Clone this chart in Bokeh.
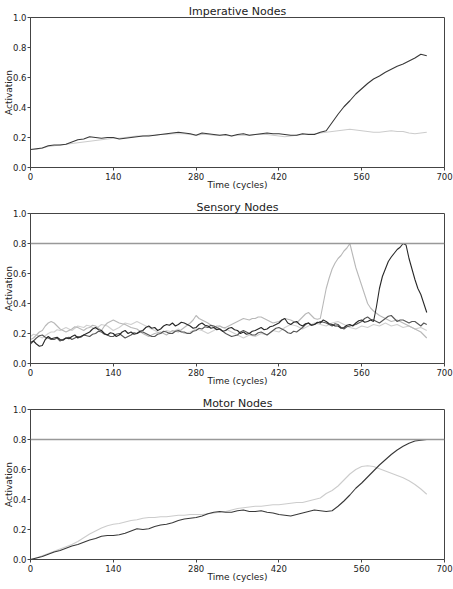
from bokeh.plotting import figure
from bokeh.layouts import column
from bokeh.models import Range1d, FixedTicker, Span
from bokeh.embed import file_html
from bokeh.resources import INLINE

TIME = [0, 10, 20, 30, 40, 50, 60, 70, 80, 90, 100, 110, 120, 130, 140, 150, 160, 170, 180, 190,
        200, 210, 220, 230, 240, 250, 260, 270, 280, 290, 300, 310, 320, 330, 340, 350, 360, 370, 380, 390,
        400, 410, 420, 430, 440, 450, 460, 470, 480, 490, 500, 510, 520, 530, 540, 550, 560, 570, 580, 590,
        600, 610, 620, 630, 640, 650, 660, 670]

TIME_S = [0, 5, 10, 15, 20, 25, 30, 35, 40, 45,
          50, 55, 60, 65, 70, 75, 80, 85, 90, 95,
          100, 105, 110, 115, 120, 125, 130, 135, 140, 145,
          150, 155, 160, 165, 170, 175, 180, 185, 190, 195,
          200, 205, 210, 215, 220, 225, 230, 235, 240, 245,
          250, 255, 260, 265, 270, 275, 280, 285, 290, 295,
          300, 305, 310, 315, 320, 325, 330, 335, 340, 345,
          350, 355, 360, 365, 370, 375, 380, 385, 390, 395,
          400, 405, 410, 415, 420, 425, 430, 435, 440, 445,
          450, 455, 460, 465, 470, 475, 480, 485, 490, 495,
          500, 505, 510, 515, 520, 525, 530, 535, 540, 545,
          550, 555, 560, 565, 570, 575, 580, 585, 590, 595,
          600, 605, 610, 615, 620, 625, 630, 635, 640, 645,
          650, 655, 660, 665, 670]

X_TICKS = [0, 140, 280, 420, 560, 700]
Y_TICKS = [0.0, 0.2, 0.4, 0.6, 0.8, 1.0]
Y_TICK_LABELS = ["0.0", "0.2", "0.4", "0.6", "0.8", "1.0"]
THRESHOLD = 0.8

# Imperative nodes
IMP_A = [0.12, 0.125, 0.13, 0.145, 0.15, 0.15, 0.155, 0.17, 0.185, 0.19, 0.205, 0.20, 0.195, 0.20, 0.20, 0.19, 0.195, 0.20, 0.205, 0.21,
         0.21, 0.215, 0.22, 0.225, 0.23, 0.235, 0.23, 0.225, 0.215, 0.23, 0.225, 0.22, 0.215, 0.22, 0.21, 0.22, 0.225, 0.215, 0.22, 0.225,
         0.23, 0.225, 0.225, 0.22, 0.215, 0.215, 0.225, 0.22, 0.22, 0.235, 0.245, 0.30, 0.355, 0.405, 0.445, 0.49, 0.525, 0.56, 0.59, 0.61,
         0.635, 0.655, 0.675, 0.69, 0.71, 0.73, 0.755, 0.745]
IMP_B = [0.12, 0.12, 0.13, 0.14, 0.145, 0.15, 0.155, 0.16, 0.165, 0.17, 0.175, 0.18, 0.185, 0.19, 0.195, 0.195, 0.20, 0.205, 0.21, 0.21,
         0.215, 0.215, 0.22, 0.22, 0.225, 0.225, 0.225, 0.22, 0.215, 0.22, 0.22, 0.215, 0.215, 0.215, 0.21, 0.215, 0.215, 0.215, 0.22, 0.22,
         0.22, 0.215, 0.21, 0.205, 0.21, 0.215, 0.22, 0.225, 0.225, 0.23, 0.235, 0.24, 0.245, 0.25, 0.255, 0.25, 0.245, 0.24, 0.235, 0.235,
         0.24, 0.245, 0.24, 0.24, 0.23, 0.225, 0.23, 0.235]

# Sensory nodes (sampled every 5 cycles)
SEN_A = [0.14, 0.15, 0.13, 0.115, 0.12, 0.16, 0.18, 0.165, 0.17, 0.175,
         0.16, 0.155, 0.17, 0.165, 0.18, 0.19, 0.17, 0.18, 0.19, 0.20,
         0.21, 0.23, 0.24, 0.225, 0.22, 0.20, 0.19, 0.205, 0.20, 0.18,
         0.19, 0.21, 0.22, 0.20, 0.21, 0.195, 0.20, 0.215, 0.22, 0.24,
         0.25, 0.235, 0.24, 0.22, 0.23, 0.25, 0.26, 0.255, 0.27, 0.25,
         0.26, 0.275, 0.27, 0.26, 0.25, 0.235, 0.24, 0.26, 0.27, 0.255,
         0.25, 0.235, 0.24, 0.225, 0.23, 0.215, 0.22, 0.235, 0.24, 0.225,
         0.22, 0.20, 0.21, 0.195, 0.20, 0.215, 0.22, 0.23, 0.24, 0.225,
         0.23, 0.245, 0.25, 0.26, 0.27, 0.29, 0.30, 0.27, 0.26, 0.275,
         0.28, 0.26, 0.25, 0.265, 0.27, 0.255, 0.26, 0.275, 0.27, 0.29,
         0.28, 0.265, 0.26, 0.25, 0.25, 0.235, 0.24, 0.255, 0.26, 0.25,
         0.27, 0.285, 0.29, 0.275, 0.28, 0.29, 0.28, 0.38, 0.50, 0.58,
         0.63, 0.68, 0.71, 0.735, 0.76, 0.775, 0.80, 0.79, 0.70, 0.63,
         0.56, 0.50, 0.46, 0.40, 0.34]
SEN_B = [0.13, 0.15, 0.17, 0.185, 0.19, 0.175, 0.17, 0.16, 0.16, 0.17,
         0.15, 0.16, 0.17, 0.175, 0.16, 0.17, 0.18, 0.175, 0.19, 0.185,
         0.18, 0.195, 0.20, 0.215, 0.21, 0.195, 0.19, 0.18, 0.18, 0.195,
         0.20, 0.185, 0.17, 0.18, 0.19, 0.205, 0.20, 0.21, 0.21, 0.20,
         0.19, 0.18, 0.18, 0.195, 0.20, 0.215, 0.21, 0.20, 0.20, 0.215,
         0.22, 0.21, 0.21, 0.20, 0.20, 0.215, 0.22, 0.235, 0.23, 0.245,
         0.24, 0.255, 0.25, 0.24, 0.23, 0.215, 0.20, 0.19, 0.18, 0.185,
         0.19, 0.21, 0.22, 0.21, 0.20, 0.19, 0.19, 0.205, 0.21, 0.20,
         0.19, 0.205, 0.22, 0.235, 0.24, 0.23, 0.22, 0.205, 0.20, 0.215,
         0.21, 0.225, 0.24, 0.26, 0.27, 0.255, 0.26, 0.27, 0.28, 0.275,
         0.27, 0.26, 0.25, 0.265, 0.26, 0.24, 0.23, 0.245, 0.25, 0.255,
         0.26, 0.27, 0.28, 0.30, 0.31, 0.295, 0.29, 0.28, 0.27, 0.285,
         0.30, 0.315, 0.32, 0.30, 0.28, 0.29, 0.29, 0.28, 0.27, 0.28,
         0.28, 0.265, 0.25, 0.27, 0.26]
SEN_C = [0.16, 0.17, 0.19, 0.21, 0.22, 0.25, 0.27, 0.28, 0.27, 0.25,
         0.23, 0.22, 0.21, 0.22, 0.23, 0.245, 0.24, 0.23, 0.22, 0.235,
         0.24, 0.255, 0.25, 0.235, 0.22, 0.25, 0.27, 0.28, 0.29, 0.28,
         0.27, 0.265, 0.26, 0.25, 0.24, 0.235, 0.23, 0.215, 0.20, 0.19,
         0.18, 0.19, 0.20, 0.205, 0.21, 0.20, 0.19, 0.205, 0.22, 0.215,
         0.21, 0.225, 0.24, 0.255, 0.27, 0.29, 0.32, 0.30, 0.29, 0.28,
         0.27, 0.255, 0.24, 0.25, 0.25, 0.24, 0.24, 0.25, 0.26, 0.27,
         0.28, 0.29, 0.30, 0.295, 0.29, 0.30, 0.30, 0.31, 0.31, 0.30,
         0.29, 0.28, 0.27, 0.275, 0.28, 0.29, 0.30, 0.295, 0.29, 0.28,
         0.27, 0.29, 0.31, 0.33, 0.34, 0.32, 0.30, 0.295, 0.30, 0.40,
         0.50, 0.57, 0.63, 0.67, 0.70, 0.72, 0.75, 0.77, 0.80, 0.72,
         0.64, 0.58, 0.52, 0.46, 0.40, 0.37, 0.35, 0.335, 0.32, 0.31,
         0.30, 0.29, 0.28, 0.285, 0.29, 0.28, 0.27, 0.26, 0.25, 0.24,
         0.23, 0.22, 0.21, 0.19, 0.17]
SEN_D = [0.18, 0.195, 0.19, 0.18, 0.17, 0.185, 0.20, 0.21, 0.21, 0.225,
         0.22, 0.23, 0.24, 0.23, 0.22, 0.235, 0.25, 0.245, 0.24, 0.255,
         0.25, 0.24, 0.23, 0.245, 0.26, 0.255, 0.25, 0.235, 0.22, 0.23,
         0.24, 0.255, 0.27, 0.265, 0.26, 0.27, 0.28, 0.27, 0.26, 0.25,
         0.24, 0.23, 0.22, 0.21, 0.20, 0.21, 0.22, 0.215, 0.21, 0.22,
         0.23, 0.215, 0.20, 0.205, 0.21, 0.22, 0.23, 0.225, 0.22, 0.21,
         0.20, 0.21, 0.22, 0.235, 0.25, 0.24, 0.23, 0.22, 0.21, 0.20,
         0.19, 0.18, 0.17, 0.18, 0.19, 0.185, 0.18, 0.19, 0.20, 0.195,
         0.19, 0.205, 0.22, 0.215, 0.21, 0.225, 0.24, 0.25, 0.26, 0.255,
         0.25, 0.24, 0.23, 0.24, 0.25, 0.26, 0.27, 0.265, 0.26, 0.255,
         0.25, 0.26, 0.27, 0.275, 0.28, 0.27, 0.26, 0.25, 0.24, 0.235,
         0.23, 0.24, 0.25, 0.245, 0.24, 0.25, 0.26, 0.255, 0.25, 0.26,
         0.27, 0.26, 0.25, 0.255, 0.26, 0.25, 0.24, 0.245, 0.25, 0.24,
         0.23, 0.235, 0.24, 0.23, 0.22]

# Motor nodes
MOT_A = [0.0, 0.01, 0.02, 0.035, 0.05, 0.06, 0.075, 0.09, 0.10, 0.115, 0.13, 0.14, 0.155, 0.16, 0.16, 0.165, 0.175, 0.19, 0.205, 0.20,
         0.205, 0.22, 0.23, 0.235, 0.245, 0.26, 0.27, 0.275, 0.28, 0.29, 0.305, 0.315, 0.32, 0.315, 0.315, 0.325, 0.33, 0.32, 0.32, 0.325,
         0.315, 0.31, 0.30, 0.295, 0.29, 0.30, 0.31, 0.32, 0.33, 0.325, 0.32, 0.325, 0.355, 0.39, 0.43, 0.475, 0.51, 0.55, 0.59, 0.63,
         0.665, 0.70, 0.73, 0.755, 0.775, 0.79, 0.795, 0.80]
MOT_B = [0.0, 0.01, 0.025, 0.04, 0.055, 0.07, 0.085, 0.10, 0.12, 0.145, 0.17, 0.19, 0.21, 0.225, 0.235, 0.24, 0.25, 0.26, 0.265, 0.275,
         0.28, 0.28, 0.285, 0.285, 0.29, 0.295, 0.295, 0.30, 0.30, 0.30, 0.305, 0.31, 0.315, 0.32, 0.33, 0.34, 0.345, 0.35, 0.355, 0.355,
         0.36, 0.365, 0.365, 0.37, 0.375, 0.38, 0.38, 0.39, 0.40, 0.41, 0.44, 0.46, 0.49, 0.53, 0.57, 0.60, 0.62, 0.625, 0.62, 0.605,
         0.59, 0.575, 0.56, 0.545, 0.525, 0.50, 0.47, 0.435]

FONT = "DejaVu Sans"
TEXT = "#222222"
FRAME = "#444444"


def make_panel(title, times, series, threshold=None):
    p = figure(frame_width=414, frame_height=150,
               x_range=Range1d(0, 700), y_range=Range1d(0, 1),
               output_backend="svg", toolbar_location=None,
               min_border_left=0, min_border_right=9,
               min_border_top=17, min_border_bottom=29)
    p.title.text = title
    p.title.align = "center"
    p.title.text_font = FONT
    p.title.text_font_size = "11px"
    p.title.text_font_style = "normal"
    p.title.text_color = TEXT
    p.title.standoff = 0
    p.grid.visible = False
    p.outline_line_color = FRAME
    p.outline_line_width = 1
    p.outline_line_alpha = 1
    for ax in (p.xaxis[0], p.yaxis[0]):
        ax.axis_line_color = FRAME
        ax.major_tick_line_color = FRAME
        ax.major_tick_out = 3
        ax.major_tick_in = 0
        ax.minor_tick_line_color = None
        ax.major_label_text_font = FONT
        ax.major_label_text_font_size = "8.5px"
        ax.major_label_text_color = TEXT
        ax.axis_label_text_font = FONT
        ax.axis_label_text_font_size = "9px"
        ax.axis_label_text_font_style = "normal"
        ax.axis_label_text_color = TEXT
    p.yaxis[0].major_label_standoff = 1
    p.yaxis[0].axis_label_standoff = -4
    p.xaxis[0].major_label_standoff = 2
    p.xaxis[0].axis_label_standoff = -3
    p.xaxis[0].ticker = FixedTicker(ticks=X_TICKS)
    p.yaxis[0].ticker = FixedTicker(ticks=Y_TICKS)
    p.yaxis[0].major_label_overrides = {t: l for t, l in zip(Y_TICKS, Y_TICK_LABELS)}
    p.xaxis[0].axis_label = "Time (cycles)"
    p.yaxis[0].axis_label = "Activation"
    if threshold is not None:
        p.add_layout(Span(location=threshold, dimension="width",
                          line_color="#999999", line_width=1.5))
    for ys, color in series:
        p.line(times, ys, line_color=color, line_width=1.1)
    return p


p1 = make_panel("Imperative Nodes", TIME, [(IMP_B, "#cccccc"), (IMP_A, "#383838")])
p2 = make_panel("Sensory Nodes", TIME_S, [(SEN_D, "#d0d0d0"), (SEN_C, "#b8b8b8"),
                                          (SEN_B, "#555555"), (SEN_A, "#282828")], THRESHOLD)
p3 = make_panel("Motor Nodes", TIME, [(MOT_B, "#cccccc"), (MOT_A, "#383838")], THRESHOLD)

layout = column(p1, p2, p3, spacing=0)
open("out.html", "w").write(file_html(layout, INLINE))
